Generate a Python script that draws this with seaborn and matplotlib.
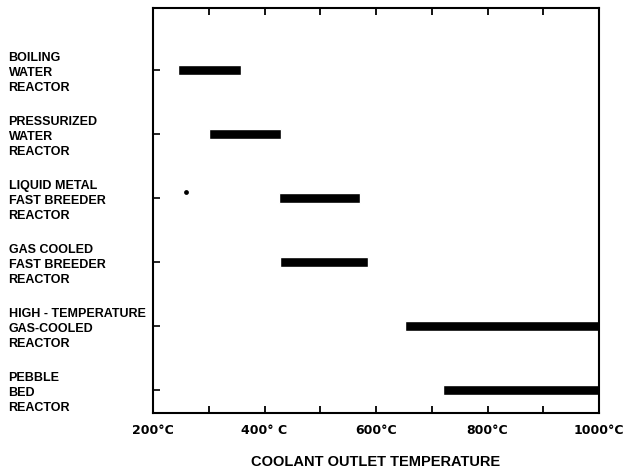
import matplotlib
matplotlib.use("Agg")
import matplotlib.pyplot as plt
from matplotlib.ticker import MultipleLocator
import seaborn as sns
import pandas as pd

# ---- data ----
reactors = [
    "BOILING\nWATER\nREACTOR",
    "PRESSURIZED\nWATER\nREACTOR",
    "LIQUID METAL\nFAST BREEDER\nREACTOR",
    "GAS COOLED\nFAST BREEDER\nREACTOR",
    "HIGH - TEMPERATURE\nGAS-COOLED\nREACTOR",
    "PEBBLE\nBED\nREACTOR",
]
temp_low = [245, 300, 426, 427, 652, 720]
temp_high = [358, 430, 571, 586, 1000, 1000]
dot_temp = [259]
dot_reactor = [2]
dot_offset = [-0.1]
xtick_values = [200, 400, 600, 800, 1000]
xtick_labels = ["200°C", "400° C", "600°C", "800°C", "1000°C"]

df = pd.DataFrame({"reactor": reactors, "low": temp_low, "high": temp_high})
df["pos"] = range(len(reactors))
df["span"] = df["high"] - df["low"]

sns.set_theme(style="ticks")
plt.rcParams["font.family"] = ["DejaVu Sans"]
plt.rcParams["text.color"] = "black"
plt.rcParams["axes.labelcolor"] = "black"

fig = plt.figure(figsize=(6.28, 4.70), dpi=100)
ax = fig.add_axes([153 / 628, 57 / 470, 446 / 628, 405 / 470])

ax.barh(df["pos"], df["span"], left=df["low"], height=0.16, color="black")
dots = pd.DataFrame({"t": dot_temp, "y": [r + o for r, o in zip(dot_reactor, dot_offset)]})
sns.scatterplot(data=dots, x="t", y="y", ax=ax, color="black", s=12, linewidth=0)

ax.set_xlim(200, 1000)
ax.set_ylim(5.36, -0.97)

ax.set_xticks(xtick_values)
ax.set_xticklabels(xtick_labels, fontweight="bold", fontsize=9, color="black")
ax.xaxis.set_minor_locator(MultipleLocator(100))
ax.tick_params(axis="x", which="both", direction="in", length=5, width=1.3,
               top=True, bottom=True, pad=8, colors="black", labelcolor="black")

ax.set_yticks(df["pos"])
ax.set_yticklabels(df["reactor"], fontsize=9, fontweight="bold", color="black",
                   family=["Liberation Sans", "DejaVu Sans"],
                   linespacing=1.35)
for lab in ax.get_yticklabels():
    lab.set_horizontalalignment("left")
ax.tick_params(axis="y", which="both", direction="in", length=5, width=1.2,
               left=True, right=False, pad=104, colors="black", labelcolor="black")

ax.set_xlabel("COOLANT OUTLET TEMPERATURE", fontsize=10.5, fontweight="bold",
              color="black", family=["Liberation Sans", "DejaVu Sans"], labelpad=13)
ax.set_ylabel("")

for s in ax.spines.values():
    s.set_visible(True)
    s.set_linewidth(1.5)
    s.set_color("black")

fig.savefig("out.png", dpi=100, facecolor="white")
